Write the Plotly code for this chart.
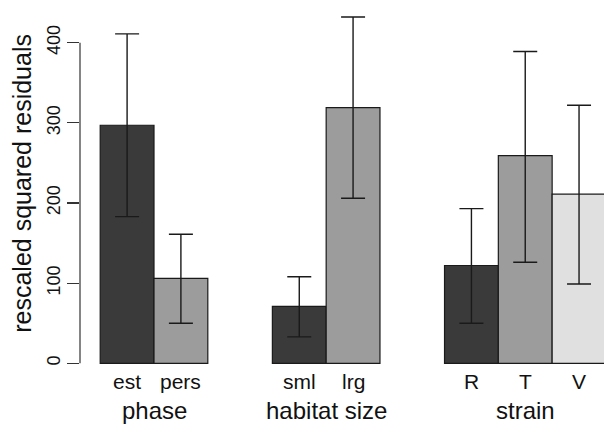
import plotly.graph_objects as go

# ---- data ----
groups = ["phase", "habitat size", "strain"]
group_levels = [["est", "pers"], ["sml", "lrg"], ["R", "T", "V"]]
means = [[297, 106], [71, 319], [122, 259, 211]]
upper = [[411, 161], [108, 432], [193, 389, 322]]
lower = [[183, 50], [33, 206], [50, 126, 99]]
fills = [["#3a3a3a", "#9c9c9c"], ["#3a3a3a", "#9c9c9c"], ["#3a3a3a", "#9c9c9c", "#e0e0e0"]]
y_ticks = [0, 100, 200, 300, 400]
y_title = "rescaled squared residuals"

# ---- barplot-style positions (width 1, group gap 1.2) ----
gap = 1.2
xs, ys, eu, el, cols, labs, gcent = [], [], [], [], [], [], []
pos = 0.0
for gi, lev in enumerate(group_levels):
    start = pos
    for li, name in enumerate(lev):
        xs.append(pos + 0.5)
        ys.append(means[gi][li])
        eu.append(upper[gi][li] - means[gi][li])
        el.append(means[gi][li] - lower[gi][li])
        cols.append(fills[gi][li])
        labs.append(name)
        pos += 1
    gcent.append((start + pos) / 2)
    pos += gap

FONT = "Liberation Sans, Arial, Helvetica, sans-serif"
TXT = "#111111"

fig = go.Figure()
fig.add_trace(go.Bar(
    x=xs, y=ys, width=1,
    marker=dict(color=cols, line=dict(color="#1a1a1a", width=1.2)),
    error_y=dict(type="data", symmetric=False, array=eu, arrayminus=el,
                 color="#1a1a1a", thickness=1.4, width=12),
    showlegend=False, hoverinfo="skip",
))

annotations = []
for x, t in zip(xs, labs):
    annotations.append(dict(x=x, y=-0.017, xref="x", yref="paper", text=t,
                            showarrow=False, yanchor="middle",
                            font=dict(family=FONT, size=21, color=TXT)))
for x, t in zip(gcent, groups):
    annotations.append(dict(x=x, y=-0.097, xref="x", yref="paper", text=t,
                            showarrow=False, yanchor="middle",
                            font=dict(family=FONT, size=24, color=TXT)))
annotations.append(dict(x=-0.111, y=0.519, xref="paper", yref="paper", text=y_title,
                        showarrow=False, textangle=-90, xanchor="center", yanchor="middle",
                        font=dict(family=FONT, size=25, color=TXT)))

fig.update_layout(
    width=604, height=425, autosize=False,
    margin=dict(l=80, r=0, t=5, b=50),
    paper_bgcolor="white", plot_bgcolor="white",
    bargap=0,
    xaxis=dict(range=[-0.3755, 9.364], showticklabels=False, ticks="",
               showgrid=False, zeroline=False, showline=False),
    yaxis=dict(range=[-14.6, 447.0], tickvals=y_ticks, ticktext=[str(v) for v in y_ticks],
               tickangle=-90, ticks="outside", ticklen=12, tickwidth=1.2,
               tickcolor="#333333", showgrid=False, zeroline=False, showline=False,
               tickfont=dict(family=FONT, size=18, color=TXT)),
    annotations=annotations,
    shapes=[dict(type="line", xref="paper", yref="y", x0=0, x1=0,
                 y0=y_ticks[0], y1=y_ticks[-1],
                 line=dict(color="#333333", width=1.2))],
)

fig.write_html("out.html", config={"displayModeBar": False, "staticPlot": True},
               post_script="document.body.style.margin='0';document.body.style.overflow='hidden';")
